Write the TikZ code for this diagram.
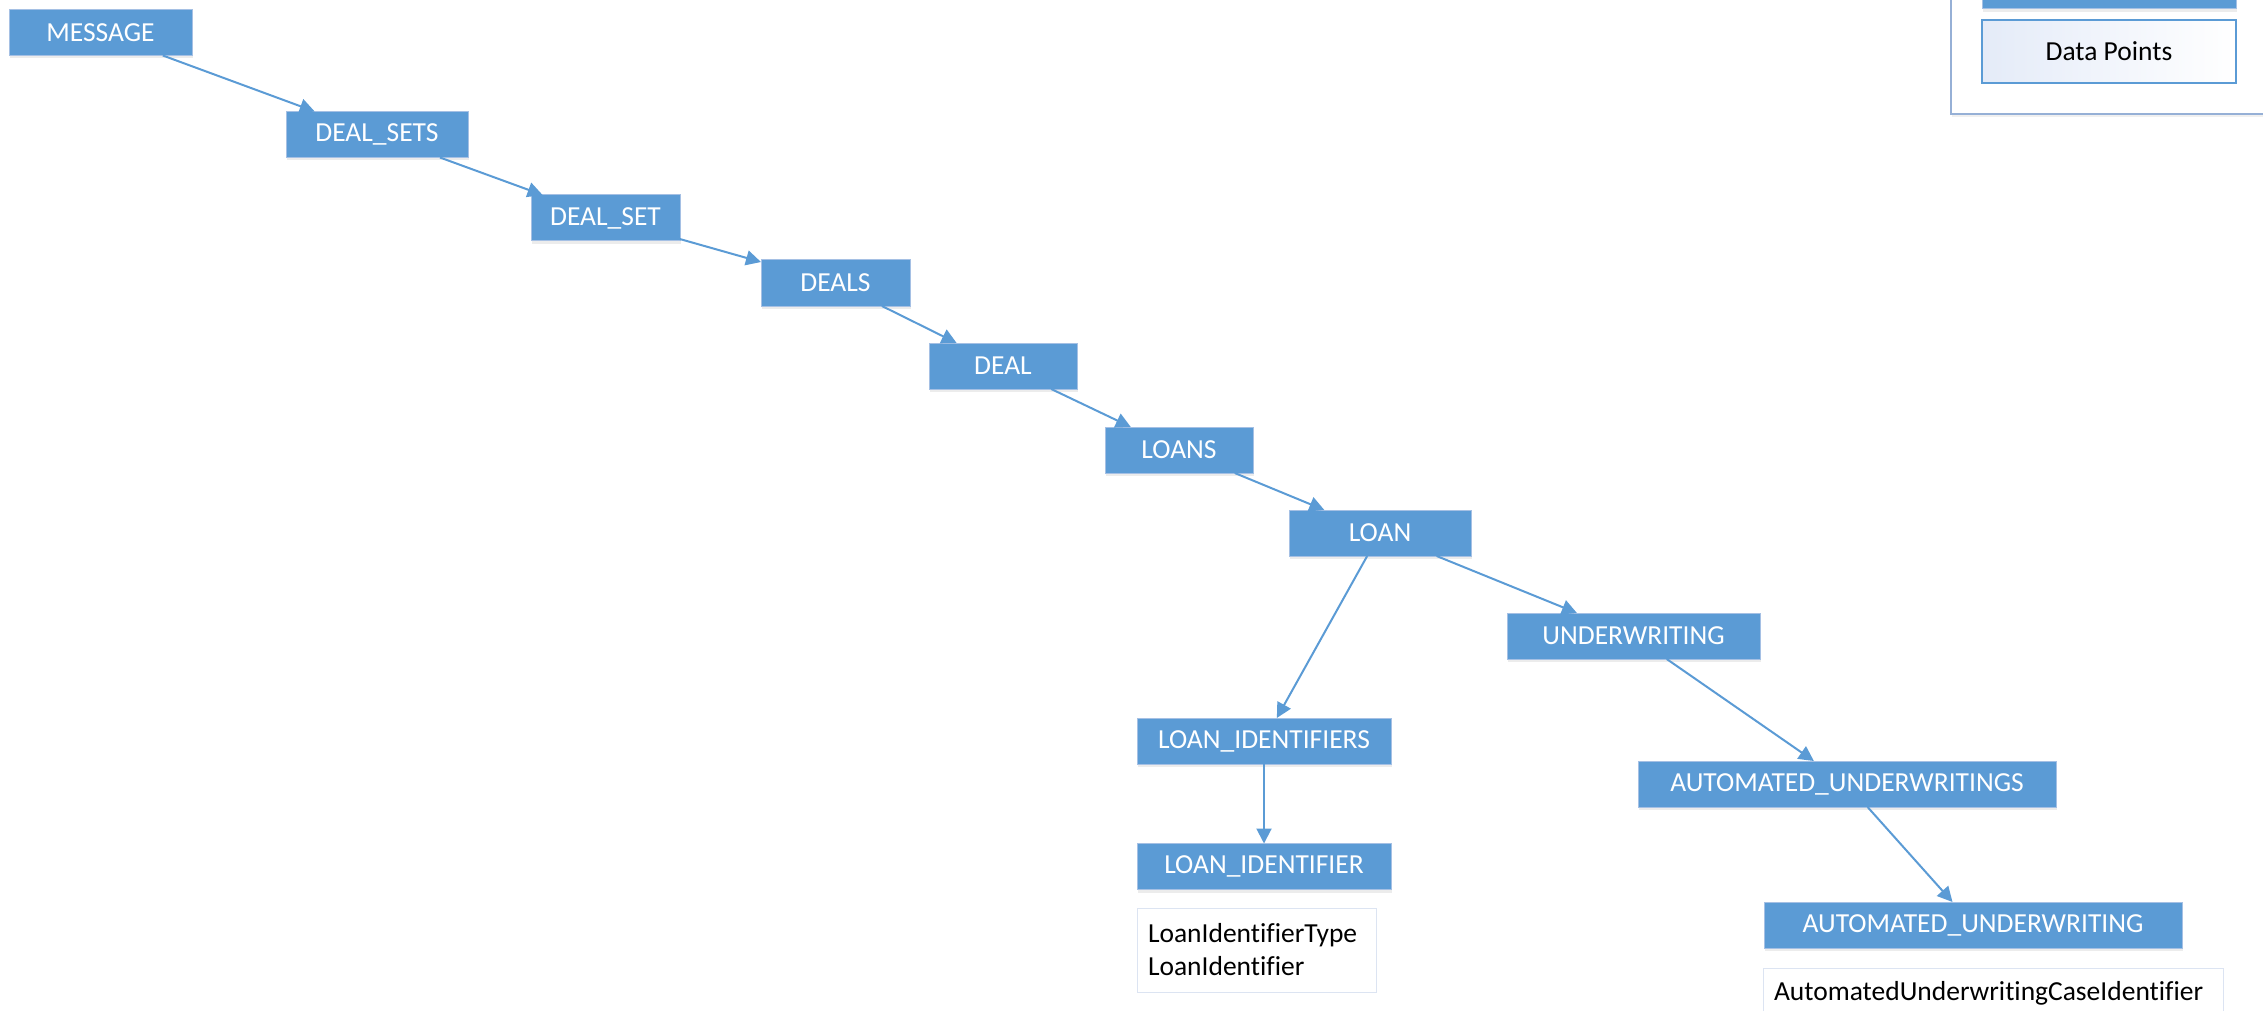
\documentclass[tikz,border=0pt]{standalone}
\usepackage{fontspec}
\setmainfont{Carlito}[Ligatures=NoCommon]
\usepackage{tikz}
\usetikzlibrary{arrows.meta,shadows}

\definecolor{boxblue}{RGB}{91,155,213}
\definecolor{boxline}{RGB}{165,192,228}
\definecolor{paleline}{RGB}{220,228,242}
\definecolor{legendline}{RGB}{150,176,214}
\definecolor{paleblue}{RGB}{228,235,248}

\begin{document}
\begin{tikzpicture}[x=1pt,y=-1pt,->,>={Triangle[length=15pt,width=15pt]},
  line width=2pt,boxblue,font=\fontsize{27.5}{33}\selectfont,
  main node/.style={rectangle,fill=boxblue,draw=boxline,line width=1pt,text=white,
    minimum height=46pt,inner sep=0pt,outer sep=0pt,
    drop shadow={shadow xshift=1pt,shadow yshift=-3pt,opacity=.15}},
  data node/.style={rectangle,fill=white,draw=paleline,line width=1pt,text=black,
    align=left,inner xsep=11pt,outer sep=0pt,anchor=north west},
  legend node/.style={rectangle,draw=legendline,fill=white,line width=2pt,
    inner sep=0pt,drop shadow={shadow xshift=1pt,shadow yshift=-3pt,opacity=.12}}]
  \useasboundingbox (0,0) rectangle (2263,1011);
  \clip (0,0) rectangle (2263,1011);

  % legend, top right
  \node[legend node,minimum width=324pt,minimum height=124pt] (legend) at (2113,52) {};
  \node[main node,minimum width=254pt] (legendbox) at (2109,-14) {};
  \node[rectangle,draw=boxblue,line width=2pt,left color=paleblue,right color=white,
    text=black,minimum width=254pt,minimum height=63pt] (datapoints) at (2109,51.5) {Data Points};

  \node[main node,minimum width=183pt] (message) at (100.5,32.5) {MESSAGE};
  \node[main node,minimum width=182pt] (dealsets) at (377,134.5) {DEAL\_SETS};
  \node[main node,minimum width=149pt] (dealset) at (605.5,218) {DEAL\_SET};
  \node[main node,minimum width=149pt] (deals) at (835.5,283) {DEALS};
  \node[main node,minimum width=148pt] (deal) at (1003,366) {DEAL};
  \node[main node,minimum width=148pt] (loans) at (1179,450) {LOANS};
  \node[main node,minimum width=182pt] (loan) at (1380,533) {LOAN};
  \node[main node,minimum width=253pt] (uw) at (1633.5,636) {UNDERWRITING};
  \node[main node,minimum width=254pt] (loanids) at (1264,741) {LOAN\_IDENTIFIERS};
  \node[main node,minimum width=254pt] (loanid) at (1264,866.5) {LOAN\_IDENTIFIER};
  \node[main node,minimum width=418pt] (aus) at (1847,784) {AUTOMATED\_UNDERWRITINGS};
  \node[main node,minimum width=418pt] (au) at (1973,925) {AUTOMATED\_UNDERWRITING};

  % data points under the leaves
  \node[data node,text width=217pt,minimum height=84pt] (loaniddata) at (1137,908)
    {LoanIdentifierType\\LoanIdentifier};
  \node[data node,text width=438pt,inner ysep=13pt] (audata) at (1763,968)
    {AutomatedUnderwritingCaseIdentifier};

  \path
    (message) edge (dealsets)
    (dealsets) edge (dealset)
    (dealset) edge (deals)
    (deals) edge (deal)
    (deal) edge (loans)
    (loans) edge (loan)
    (loan) edge (loanids)
    (loan) edge (uw)
    (loanids) edge (loanid)
    (uw) edge (aus)
    (aus) edge (au);
\end{tikzpicture}
\end{document}
